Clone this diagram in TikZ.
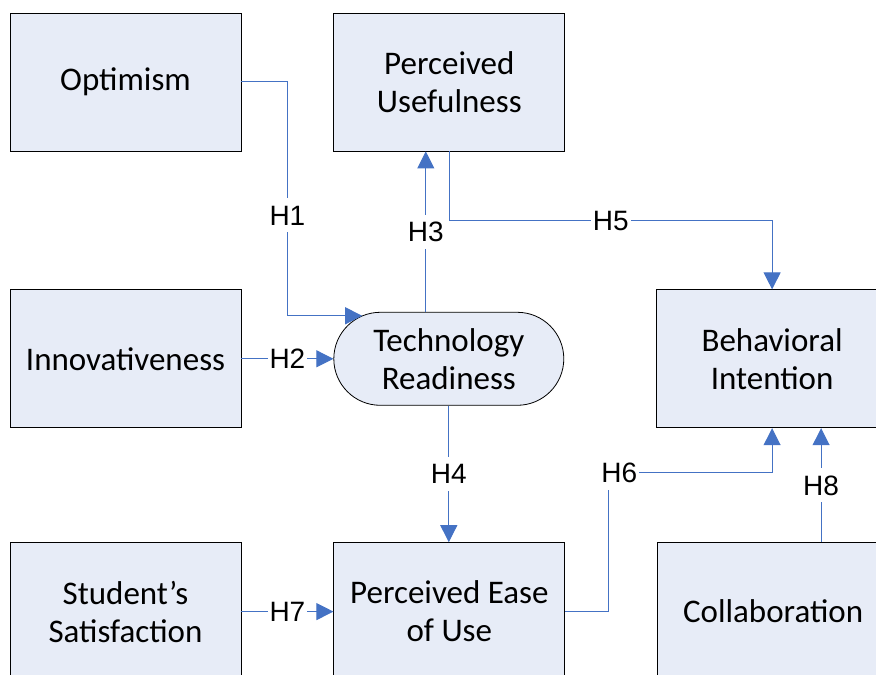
\documentclass[tikz,border=0pt]{standalone}
\usepackage{fontspec}
\setmainfont{Carlito}
\newfontfamily\hfont{Liberation Sans}
\usepackage{tikz}
\usetikzlibrary{positioning}
\usetikzlibrary{arrows.meta}
\usetikzlibrary{calc}
\definecolor{boxfill}{RGB}{231,236,247}
\definecolor{hblue}{RGB}{68,114,196}

\begin{document}
\begin{tikzpicture}[
            x = 1pt, y = 1pt, % one unit per pixel
            > = {Triangle[length=17pt, width=17pt]}, % arrow head style
            node distance = 92pt, % gap between boxes
            semithick % line style
        ]

        \tikzstyle{box}=[
            draw = black,
            thick,
            fill = boxfill,
            minimum width = 231pt,
            minimum height = 138pt,
            align = center,
            font = \fontsize{33}{38}\selectfont
        ]
        \tikzstyle{hyp}=[draw = hblue, line width = 1pt, ->]
        \tikzstyle{hlabel}=[
            fill = white,
            inner xsep = 2pt,
            inner ysep = 7pt,
            text height = 20pt,
            text depth = 0pt,
            font = \hfont\fontsize{28}{30}\selectfont
        ]

        \useasboundingbox (0,0) rectangle (876,675);
        \clip (0,0) rectangle (876,675);

        % first row
        \node[box] (O) at (125.5,593) {Optimism};
        \node[box] (PU) [right=of O] {Perceived\\Usefulness};

        % second row
        \node[box] (I) [below=138pt of O] {Innovativeness};
        \node[box, rounded corners=46.5pt, minimum width=230pt, minimum height=93pt] (TR) [right=of I] {Technology\\Readiness};
        \node[box] (BI) [right=of TR] {Behavioral\\Intention};

        % third row
        \node[box] (SS) [below=114pt of I] {Student’s\\Satisfaction};
        \node[box] (PEU) [right=of SS] {Perceived Ease\\of Use};
        \node[box] (C) [right=of PEU] {Collaboration};

        % hypotheses
        \coordinate (TRin) at ($(TR.west)+(28.8,43)$);
        \draw[hyp] (O.east) -- ++(46,0) |- node[hlabel, pos=0.285] {H1} (TRin);
        \draw[hyp] (I) -- node[hlabel] {H2} (TR);
        \draw[hyp] ([xshift=-23pt]TR.north) -- node[hlabel] {H3} ([xshift=-23pt]TR.north |- PU.south);
        \draw[hyp] (TR.south) -- node[hlabel] {H4} (TR.south |- PEU.north);
        \draw[hyp] (PU.south) -- ++(0,-69) -| node[hlabel, pos=0.25] {H5} (BI.north);
        \draw[hyp] (PEU.east) -- ++(43,0) -- ++(0,139) node[hlabel, xshift=11pt] {H6} -| (BI.south);
        \draw[hyp] (SS) -- node[hlabel] {H7} (PEU);
        \draw[hyp] ([xshift=48pt]C.north) -- node[hlabel] {H8} ([xshift=48pt]C.north |- BI.south);

\end{tikzpicture}
\end{document}
